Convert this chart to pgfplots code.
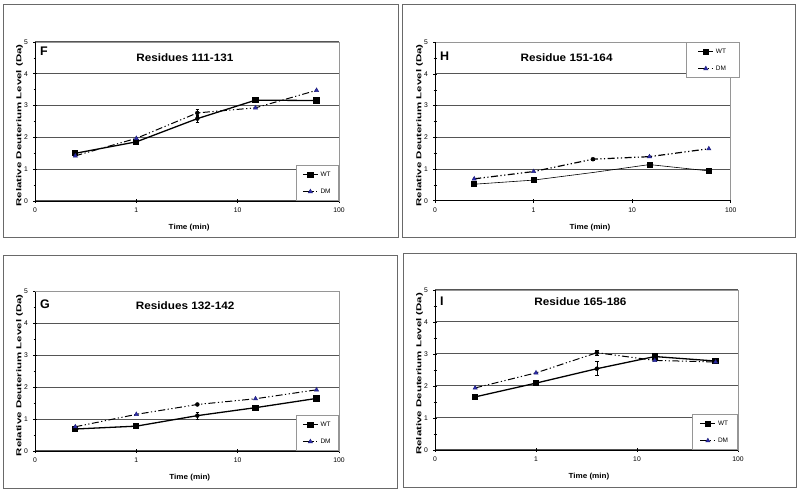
\documentclass[border=0pt]{standalone}
\usepackage{fontspec}
\setmainfont{Liberation Sans}
\usepackage{graphicx}
\usepackage{pgfplots}
\pgfplotsset{compat=1.18}

\definecolor{gridc}{RGB}{85,85,85}
\definecolor{boxc}{RGB}{150,150,150}
\definecolor{framec}{RGB}{105,105,105}
\definecolor{dmblue}{RGB}{45,45,175}

\pgfkeys{/pgf/number format/assume math mode=true}
\pgfplotsset{
  legend image code/.code={\draw[#1, mark indices={2}] plot coordinates {(0bp,0bp) (7.5bp,0bp) (15bp,0bp)};},
}
\pgfplotsset{
 every axis/.append style={
  scale only axis,
  clip=false,
  xmode=log, xmin=0.1, xmax=100,
  ymin=0, ymax=5,
  xtick={0.1,1,10,100}, xticklabels={0,1,10,100},
  xminorticks=false,
  ytick={0,1,2,3,4,5}, minor y tick num=1,
  tick pos=left,
  tick align=center,
  major tick length=4bp, minor tick length=3bp,
  tick style={black, line width=0.6bp},
  axis line style={boxc, line width=0.8bp},
  ymajorgrids, grid style={gridc, line width=1bp},
  tick label style={font=\fontsize{6.8}{7}\selectfont},
  xticklabel style={yshift=-1.5bp},
  yticklabel style={xshift=-1.5bp},
  legend cell align=left,
  legend style={draw=boxc, line width=0.8bp, fill=white,
    font=\fontsize{6.5}{7}\selectfont,
    row sep=7bp, inner xsep=5bp, inner ysep=4bp},
 },
 wt/.style={black, line width=1.3bp, mark=square*, mark size=2.5bp, mark options={solid}},
 dm/.style={black, line width=1bp, dash pattern=on 7bp off 2.5bp on 1.2bp off 2.5bp on 1.2bp off 2.5bp,
   mark=triangle*, mark size=2.4bp, mark options={solid, fill=dmblue, draw=dmblue!70!black, line width=0.5bp}},
 eb/.style={forget plot, black, only marks, mark=none,
   error bars/y dir=both, error bars/y explicit,
   error bars/error bar style={line width=0.6bp, solid},
   error bars/error mark options={black, mark size=1.8bp, rotate=90, line width=0.6bp}},
}

\newcommand{\paneltext}[6]{%
 \draw[black, line width=0.8bp] (rel axis cs:0,1) -- (rel axis cs:0,0) -- (rel axis cs:1,0);
 \node[font=\bfseries\fontsize{12.5}{13}\selectfont, anchor=west, inner sep=0pt] at ([xshift=5bp]rel axis cs:0,#5) {#1};
 \node[font=\bfseries\fontsize{10.8}{12}\selectfont, inner sep=0pt] at (rel axis cs:#3,#4) {\scalebox{1.09}[1]{#2}};
 \node[font=\bfseries\fontsize{7.4}{8}\selectfont, inner sep=0pt] at ([yshift=-26.5bp]rel axis cs:#6,0) {\scalebox{1.1}[1]{Time (min)}};
 \node[font=\bfseries\fontsize{7.2}{8}\selectfont, inner sep=0pt, rotate=90] at ([xshift=-15.5bp]rel axis cs:0,0.476) {\resizebox{162bp}{\height}{Relative Deuterium Level (Da)}};
}

\begin{document}
\begin{tikzpicture}[x=1bp,y=1bp]
\useasboundingbox (0,0) rectangle (800,494);
\draw[framec, line width=1bp] (3,256) rectangle (398,489);
\draw[framec, line width=1bp] (402,256) rectangle (795,489);
\draw[framec, line width=1bp] (3,5) rectangle (397,238);
\draw[framec, line width=1bp] (403,6) rectangle (796,240);

% ---------- F ----------
\begin{axis}[at={(35bp,293bp)}, anchor=south west, width=304bp, height=159bp,
  legend style={at={(1,0)}, anchor=south east, inner xsep=6bp}]
\addplot[wt, mark indices={1,2,4,5}] coordinates {(0.25,1.50) (1,1.86) (4,2.59) (15,3.17) (60,3.16)};
\addlegendentry{WT}
\addplot[dm, mark indices={1,2,4,5}] coordinates {(0.25,1.42) (1,1.97) (4,2.77) (15,2.93) (60,3.48)};
\addlegendentry{DM}
\addplot[eb] coordinates {(4,2.59) +- (0,0.10) (4,2.77) +- (0,0.12)};
\paneltext{F}{Residues 111-131}{0.493}{0.903}{0.943}{0.507}
\end{axis}

% ---------- H ----------
\begin{axis}[at={(435bp,293.3bp)}, anchor=south west, width=295.7bp, height=158.4bp,
  legend style={at={(1.031,1)}, anchor=north east, inner xsep=11.5bp}]
\addplot[wt, line width=0.6bp, mark indices={1,2,4,5}] coordinates {(0.25,0.52) (1,0.65) (4,0.89) (15,1.14) (60,0.94)};
\addlegendentry{WT}
\addplot[dm, line width=1.2bp, mark indices={1,2,4,5}] coordinates {(0.25,0.69) (1,0.92) (4,1.31) (15,1.39) (60,1.64)};
\addlegendentry{DM}
\addplot[eb] coordinates {(4,1.31) +- (0,0.03)};
\paneltext{H}{Residue 151-164}{0.445}{0.901}{0.909}{0.524}
\end{axis}

% ---------- G ----------
\begin{axis}[at={(35bp,43bp)}, anchor=south west, width=304bp, height=159.3bp,
  legend style={at={(1,0)}, anchor=south east, inner xsep=6bp}]
\addplot[wt, mark indices={1,2,4,5}] coordinates {(0.25,0.69) (1,0.78) (4,1.11) (15,1.36) (60,1.65)};
\addlegendentry{WT}
\addplot[dm, mark indices={1,2,4,5}] coordinates {(0.25,0.76) (1,1.15) (4,1.46) (15,1.64) (60,1.92)};
\addlegendentry{DM}
\addplot[eb] coordinates {(4,1.11) +- (0,0.11) (4,1.46) +- (0,0.03)};
\paneltext{G}{Residues 132-142}{0.494}{0.912}{0.924}{0.509}
\end{axis}

% ---------- I ----------
\begin{axis}[at={(435bp,44bp)}, anchor=south west, width=303bp, height=160bp,
  legend style={at={(1,0)}, anchor=south east, inner xsep=7.5bp}]
\addplot[wt, mark indices={1,2,4,5}] coordinates {(0.25,1.66) (1,2.09) (4,2.54) (15,2.92) (60,2.78)};
\addlegendentry{WT}
\addplot[dm, mark indices={1,2,4,5}] coordinates {(0.25,1.94) (1,2.41) (4,3.04) (15,2.80) (60,2.75)};
\addlegendentry{DM}
\addplot[eb] coordinates {(4,2.54) +- (0,0.22) (4,3.04) +- (0,0.07)};
\paneltext{I}{Residue 165-186}{0.48}{0.925}{0.9325}{0.508}
\end{axis}
\end{tikzpicture}
\end{document}
